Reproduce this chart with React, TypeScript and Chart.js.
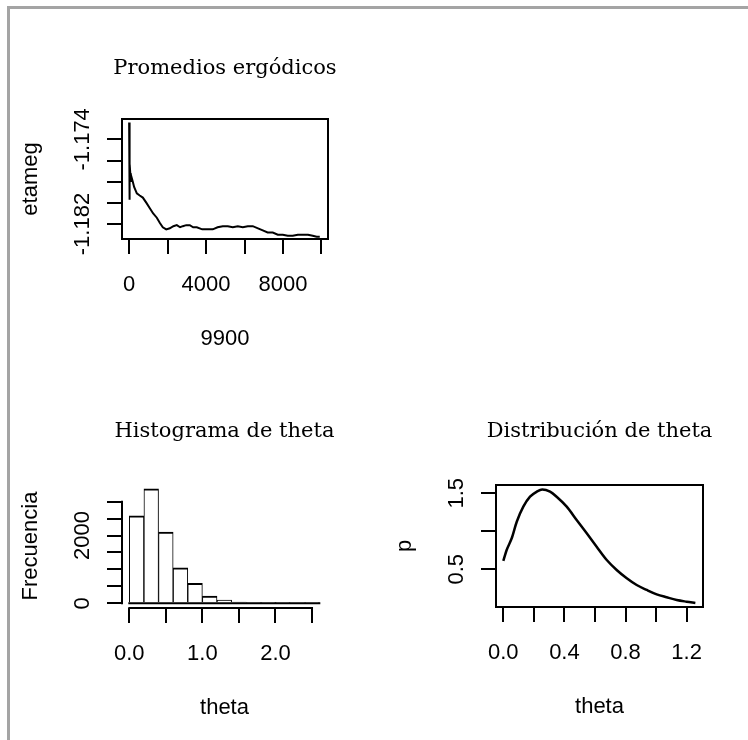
import React, { useEffect, useRef } from 'react';
import { Chart, registerables } from 'chart.js';

Chart.register(...registerables);
Chart.defaults.color = '#000';

// ---------- Panel 1: Promedios ergódicos ----------
const ERG_ITER = [1, 10, 25, 40, 60, 90, 130, 192, 260, 330, 400, 550, 712, 900, 1076, 1250, 1440, 1600, 1751, 1930, 2115, 2300, 2479, 2650, 2791, 2970, 3155, 3330, 3519, 3800, 4038, 4350, 4600, 4870, 5130, 5390, 5650, 5910, 6170, 6429, 6700, 6949, 7200, 7469, 7730, 7989, 8250, 8508, 8770, 9028, 9300, 9548, 9750, 9912];
const ERG_MEAN = [-1.1724, -1.1797, -1.1770, -1.1776, -1.1772, -1.1780, -1.1776, -1.1780, -1.1785, -1.1788, -1.1791, -1.1793, -1.1795, -1.1800, -1.1805, -1.1810, -1.1814, -1.1819, -1.1823, -1.1825, -1.1824, -1.1822, -1.1821, -1.1823, -1.1822, -1.1821, -1.1821, -1.1823, -1.1823, -1.1825, -1.1825, -1.1825, -1.1823, -1.1822, -1.1822, -1.1823, -1.1822, -1.1823, -1.1822, -1.1822, -1.1824, -1.1826, -1.1828, -1.1828, -1.1830, -1.1830, -1.1831, -1.1831, -1.1830, -1.1830, -1.1830, -1.1831, -1.1832, -1.1832];
const ERG_X_TICKS = [0, 2000, 4000, 6000, 8000, 10000];
const ERG_X_LABELS = ['0', '', '4000', '', '8000', ''];
const ERG_Y_TICKS = [-1.174, -1.176, -1.178, -1.18, -1.182];
const ERG_Y_LABELS = ['-1.174', '', '', '', '-1.182'];
const ERG_X_RANGE = [-370, 10340];
const ERG_Y_RANGE = [-1.18341, -1.17208];

// ---------- Panel 2: Histograma de theta ----------
const HIST_BREAKS = [0, 0.2, 0.4, 0.6, 0.8, 1.0, 1.2, 1.4, 1.6, 1.8, 2.0, 2.2, 2.4, 2.6];
const HIST_COUNTS = [2580, 3380, 2100, 1050, 590, 215, 95, 38, 18, 6, 2, 0, 1];
const HIST_X_TICKS = [0, 0.5, 1, 1.5, 2, 2.5];
const HIST_X_LABELS = ['0.0', '', '1.0', '', '2.0', ''];
const HIST_Y_TICKS = [0, 500, 1000, 1500, 2000, 2500, 3000];
const HIST_Y_LABELS = ['0', '', '', '', '2000', '', ''];
const HIST_X_RANGE = [-0.1, 2.705];
const HIST_Y_RANGE = [-139, 3522];

// ---------- Panel 3: Distribución de theta ----------
const DENS_THETA = [0, 0.022, 0.055, 0.088, 0.131, 0.175, 0.219, 0.255, 0.306, 0.349, 0.415, 0.48, 0.546, 0.611, 0.677, 0.742, 0.808, 0.873, 0.939, 1.004, 1.069, 1.135, 1.2, 1.257];
const DENS_P = [0.61, 0.754, 0.908, 1.126, 1.324, 1.455, 1.521, 1.55, 1.521, 1.455, 1.324, 1.149, 0.974, 0.797, 0.622, 0.491, 0.382, 0.293, 0.228, 0.171, 0.132, 0.096, 0.074, 0.058];
const DENS_X_TICKS = [0, 0.2, 0.4, 0.6, 0.8, 1.0, 1.2];
const DENS_X_LABELS = ['0.0', '', '0.4', '', '0.8', '', '1.2'];
const DENS_Y_TICKS = [0.5, 1.0, 1.5];
const DENS_Y_LABELS = ['0.5', '', '1.5'];
const DENS_X_RANGE = [-0.0478, 1.307];
const DENS_Y_RANGE = [0.004, 1.609];

const SANS = "'Liberation Sans', Arial, sans-serif";
const SERIF = "'DejaVu Serif', serif";
const AXIS_SIZE = 22;
const TITLE_SIZE = 21;
const TICK_LEN = 15;
const LINE_W = 2;

type Box = { left: number; top: number; right: number; bottom: number };

function measure(text: string, font: string): number {
  const c = document.createElement('canvas').getContext('2d')!;
  c.font = font;
  return c.measureText(text).width;
}

function buildConfig(spec: any): any {
  const { W, H, box, title, titleY, xTitle, yTitle, xRange, yRange, xTicks, xLabels, yTicks, yLabels, datasets, framed, histAxes } = spec;
  const lh = AXIS_SIZE * 1.2;
  const tlh = TITLE_SIZE * 1.2;
  const axisFont = { family: SANS, size: AXIS_SIZE, weight: 'normal' as const, lineHeight: 1.2 };
  const widest = Math.max(...yLabels.map((l: string) => measure(l, `normal normal ${AXIS_SIZE}px ${SANS}`)));
  const titleTop = titleY - tlh / 2;
  const grid = { display: true, offset: false, drawOnChartArea: false, drawTicks: true, tickLength: TICK_LEN, color: '#000', lineWidth: LINE_W };

  const framePlugin = {
    id: 'rframe',
    afterLayout(chart: any) {
      // widen the (centred) title block so the title text is never squeezed
      const t = chart.titleBlock;
      if (t) {
        t.left -= 80;
        t.right += 80;
        t.width = t.right - t.left;
      }
    },
    afterDatasetsDraw(chart: any) {
      const ctx = chart.ctx;
      const a = chart.chartArea;
      const xs = chart.scales.x;
      const ys = chart.scales.y;
      ctx.save();
      ctx.strokeStyle = '#000';
      ctx.lineWidth = LINE_W;
      ctx.lineCap = 'square';
      if (framed) {
        ctx.strokeRect(a.left, a.top, a.right - a.left, a.bottom - a.top);
      }
      if (histAxes) {
        ctx.beginPath();
        ctx.moveTo(a.left, ys.getPixelForValue(yTicks[0]));
        ctx.lineTo(a.left, ys.getPixelForValue(yTicks[yTicks.length - 1]));
        ctx.moveTo(xs.getPixelForValue(xTicks[0]), a.bottom);
        ctx.lineTo(xs.getPixelForValue(xTicks[xTicks.length - 1]), a.bottom);
        const y0 = ys.getPixelForValue(0);
        ctx.moveTo(xs.getPixelForValue(HIST_BREAKS[0]), y0);
        ctx.lineTo(xs.getPixelForValue(HIST_BREAKS[HIST_BREAKS.length - 1]), y0);
        ctx.stroke();
      }
      ctx.restore();
    },
  };

  return {
    type: 'line',
    data: { datasets },
    plugins: [framePlugin],
    options: {
      responsive: false,
      animation: false,
      events: [],
      layout: { autoPadding: false, padding: { left: 0, top: 0, right: W - box.right, bottom: 0 } },
      plugins: {
        legend: { display: false },
        tooltip: { enabled: false },
        title: {
          display: true,
          text: title,
          fullSize: false,
          color: '#000',
          font: { family: SERIF, size: TITLE_SIZE, weight: 'normal', lineHeight: 1.2 },
          padding: { top: titleTop, bottom: box.top - tlh - titleTop },
        },
      },
      scales: {
        x: {
          type: 'linear',
          position: 'bottom',
          offset: false,
          min: xRange[0],
          max: xRange[1],
          afterBuildTicks: (s: any) => { s.ticks = xTicks.map((v: number) => ({ value: v })); },
          afterFit: (s: any) => { s.height = H - box.bottom; s.paddingLeft = 0; s.paddingRight = 0; },
          grid,
          border: { display: false },
          ticks: {
            autoSkip: false,
            minRotation: 0,
            maxRotation: 0,
            padding: 46 - TICK_LEN - lh / 2,
            font: axisFont,
            color: '#000',
            callback: (_v: any, i: number) => xLabels[i],
          },
          title: {
            display: true,
            text: xTitle,
            color: '#000',
            font: axisFont,
            padding: { top: 0, bottom: H - (box.bottom + 100) - lh / 2 },
          },
        },
        y: {
          type: 'linear',
          position: 'left',
          offset: false,
          min: yRange[0],
          max: yRange[1],
          afterBuildTicks: (s: any) => { s.ticks = yTicks.map((v: number) => ({ value: v })); },
          afterFit: (s: any) => { s.width = box.left; s.paddingTop = 0; s.paddingBottom = 0; },
          grid,
          border: { display: false },
          ticks: {
            autoSkip: false,
            minRotation: 90,
            maxRotation: 90,
            crossAlign: 'center',
            padding: 39 - TICK_LEN - widest / 2,
            font: axisFont,
            color: '#000',
            callback: (_v: any, i: number) => yLabels[i],
          },
          title: {
            display: true,
            text: yTitle,
            color: '#000',
            font: axisFont,
            padding: { top: box.left - 91 - lh / 2, bottom: 0 },
          },
        },
      },
    },
  };
}

function Panel({ left, top, width, height, makeConfig }: { left: number; top: number; width: number; height: number; makeConfig: () => any }) {
  const ref = useRef<HTMLCanvasElement>(null);
  useEffect(() => {
    const chart = new Chart(ref.current as HTMLCanvasElement, makeConfig());
    return () => chart.destroy();
  }, []);
  return (
    <canvas
      ref={ref}
      width={width}
      height={height}
      style={{ position: 'absolute', left, top, width, height, display: 'block' }}
    />
  );
}

const ergConfig = () =>
  buildConfig({
    W: 374, H: 372,
    box: { left: 122, top: 119, right: 328, bottom: 239 } as Box,
    title: 'Promedios ergódicos', titleY: 68.5,
    xTitle: '9900', yTitle: 'etameg',
    xRange: ERG_X_RANGE, yRange: ERG_Y_RANGE,
    xTicks: ERG_X_TICKS, xLabels: ERG_X_LABELS, yTicks: ERG_Y_TICKS, yLabels: ERG_Y_LABELS,
    framed: true, histAxes: false,
    datasets: [{
      type: 'line',
      data: ERG_ITER.map((x, i) => ({ x, y: ERG_MEAN[i] })),
      borderColor: '#000', borderWidth: 2, pointRadius: 0, tension: 0, fill: false,
    }],
  });

const histConfig = () =>
  buildConfig({
    W: 374, H: 368,
    box: { left: 122, top: 112, right: 327, bottom: 236 } as Box,
    title: 'Histograma de theta', titleY: 60,
    xTitle: 'theta', yTitle: 'Frecuencia',
    xRange: HIST_X_RANGE, yRange: HIST_Y_RANGE,
    xTicks: HIST_X_TICKS, xLabels: HIST_X_LABELS, yTicks: HIST_Y_TICKS, yLabels: HIST_Y_LABELS,
    framed: false, histAxes: true,
    datasets: [{
      type: 'bar',
      data: HIST_COUNTS.map((c, i) => ({ x: (HIST_BREAKS[i] + HIST_BREAKS[i + 1]) / 2, y: c })),
      backgroundColor: '#fff', borderColor: '#000',
      borderWidth: { top: 2, left: 1, right: 1, bottom: 0 },
      borderSkipped: 'start',
      barPercentage: 1, categoryPercentage: 1,
    }],
  });

const densConfig = () =>
  buildConfig({
    W: 374, H: 368,
    box: { left: 122, top: 113, right: 329, bottom: 235 } as Box,
    title: 'Distribución de theta', titleY: 60,
    xTitle: 'theta', yTitle: 'p',
    xRange: DENS_X_RANGE, yRange: DENS_Y_RANGE,
    xTicks: DENS_X_TICKS, xLabels: DENS_X_LABELS, yTicks: DENS_Y_TICKS, yLabels: DENS_Y_LABELS,
    framed: true, histAxes: false,
    datasets: [{
      type: 'line',
      data: DENS_THETA.map((x, i) => ({ x, y: DENS_P[i] })),
      borderColor: '#000', borderWidth: 2.5, pointRadius: 0, cubicInterpolationMode: 'monotone', fill: false,
    }],
  });

export default function App() {
  return (
    <div style={{ position: 'absolute', left: 0, top: 0, width: 748, height: 740, background: '#fff', overflow: 'hidden' }}>
      <div
        style={{
          position: 'absolute', left: 7, top: 6, width: 745, height: 740,
          borderTop: '3px solid #a4a4a4', borderLeft: '3px solid #a4a4a4',
        }}
      />
      <Panel left={0} top={0} width={374} height={372} makeConfig={ergConfig} />
      <Panel left={0} top={372} width={374} height={368} makeConfig={histConfig} />
      <Panel left={374} top={372} width={374} height={368} makeConfig={densConfig} />
    </div>
  );
}
